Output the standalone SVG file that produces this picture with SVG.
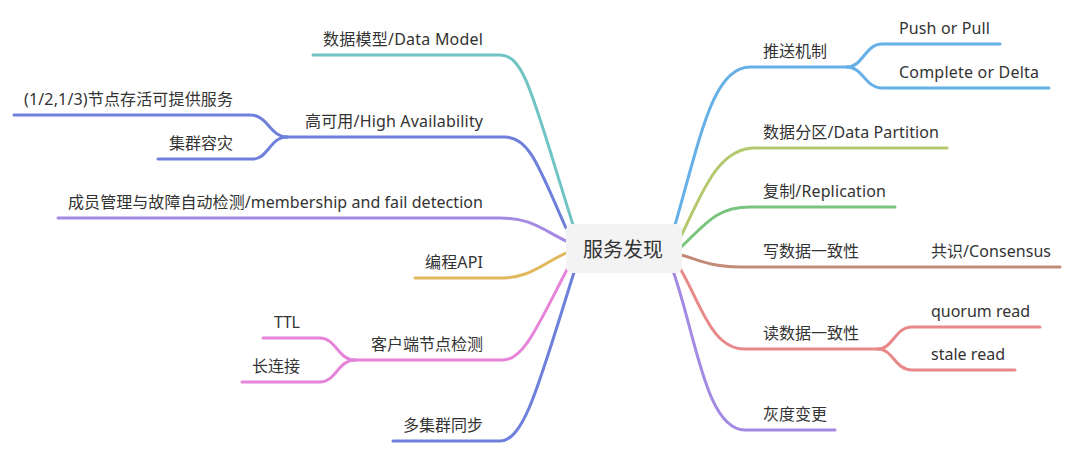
<svg xmlns="http://www.w3.org/2000/svg" width="1077" height="460" viewBox="0 0 1077 460">
<style>
.c{fill:none;stroke-width:3;stroke-linecap:round;stroke-linejoin:round}
.t{font-family:"Noto Sans","Noto Sans CJK SC",sans-serif;font-size:16px;fill:#333}
.e{text-anchor:end}
.root{font-family:"Noto Sans","Noto Sans CJK SC",sans-serif;font-size:20px;fill:#333;text-anchor:middle}
</style>
<rect width="1077" height="460" fill="#fff"/>
<g id="connectors">
<path class="c" stroke="#70c5c4" d="M313,55 H500 C525,55 533,98 574,228"/>
<path class="c" stroke="#6f80dc" d="M287,137 H505 C530,137 540,170 566,228"/>
<path class="c" stroke="#6f80dc" d="M287,137 C270,137 268,115 250,115 H14"/>
<path class="c" stroke="#6f80dc" d="M287,137 C270,137 268,159 253,159 H158"/>
<path class="c" stroke="#a58ae3" d="M58,218 H500 C530,218 540,228 566,241"/>
<path class="c" stroke="#e2b85e" d="M415,278 H500 C530,278 540,265 568,252"/>
<path class="c" stroke="#e584d8" d="M355,360 H503 C525,360 540,320 570,264"/>
<path class="c" stroke="#e584d8" d="M355,360 C338,360 336,338 320,338 H263"/>
<path class="c" stroke="#e584d8" d="M355,360 C338,360 336,382 320,382 H242"/>
<path class="c" stroke="#6f80dc" d="M393,441 H500 C525,441 540,380 576,266"/>
<path class="c" stroke="#66b0e8" d="M673,232 C700,140 712,67 750,67 H847"/>
<path class="c" stroke="#66b0e8" d="M847,67 C863,67 865,44 882,44 H1000"/>
<path class="c" stroke="#66b0e8" d="M847,67 C863,67 865,88 882,88 H1049"/>
<path class="c" stroke="#b4c870" d="M678,242 C700,200 715,148 755,148 H947"/>
<path class="c" stroke="#79c47e" d="M678,250 C705,225 715,207 750,207 H895"/>
<path class="c" stroke="#c38a78" d="M678,254 C700,260 710,267 740,267 H1060"/>
<path class="c" stroke="#e88888" d="M678,265 C700,300 710,349 745,349 H878"/>
<path class="c" stroke="#e88888" d="M878,349 C893,349 895,327 912,327 H1040"/>
<path class="c" stroke="#e88888" d="M878,349 C893,349 895,370 912,370 H1015"/>
<path class="c" stroke="#a58ae3" d="M672,268 C695,330 705,430 745,430 H835"/>
</g>
<g id="root">
<rect x="566" y="224" width="116" height="49" rx="6" fill="#f3f3f3"/>
<text class="root" x="623" y="257">服务发现</text>
</g>
<g id="n-datamodel"><text class="t e" x="483" y="45" textLength="160">数据模型/Data Model</text></g>
<g id="n-ha"><text class="t e" x="483" y="127" textLength="178">高可用/High Availability</text></g>
<g id="n-ha-1"><text class="t e" x="233" y="105" textLength="209">(1/2,1/3)节点存活可提供服务</text></g>
<g id="n-ha-2"><text class="t e" x="233" y="149">集群容灾</text></g>
<g id="n-member"><text class="t e" x="483" y="208" textLength="415">成员管理与故障自动检测/membership and fail detection</text></g>
<g id="n-api"><text class="t e" x="483" y="268" textLength="58">编程API</text></g>
<g id="n-client"><text class="t e" x="483" y="350">客户端节点检测</text></g>
<g id="n-client-1"><text class="t e" x="300" y="328" textLength="26">TTL</text></g>
<g id="n-client-2"><text class="t e" x="300" y="372">长连接</text></g>
<g id="n-multi"><text class="t e" x="483" y="431">多集群同步</text></g>
<g id="n-push"><text class="t" x="763" y="57">推送机制</text></g>
<g id="n-push-1"><text class="t" x="899" y="34" textLength="91">Push or Pull</text></g>
<g id="n-push-2"><text class="t" x="899" y="78" textLength="140">Complete or Delta</text></g>
<g id="n-partition"><text class="t" x="763" y="138" textLength="176">数据分区/Data Partition</text></g>
<g id="n-replication"><text class="t" x="763" y="197" textLength="123">复制/Replication</text></g>
<g id="n-write"><text class="t" x="763" y="257">写数据一致性</text></g>
<g id="n-write-1"><text class="t" x="931" y="257" textLength="120">共识/Consensus</text></g>
<g id="n-read"><text class="t" x="763" y="339">读数据一致性</text></g>
<g id="n-read-1"><text class="t" x="931" y="317" textLength="99">quorum read</text></g>
<g id="n-read-2"><text class="t" x="931" y="360" textLength="74">stale read</text></g>
<g id="n-gray"><text class="t" x="763" y="420">灰度变更</text></g>
</svg>
